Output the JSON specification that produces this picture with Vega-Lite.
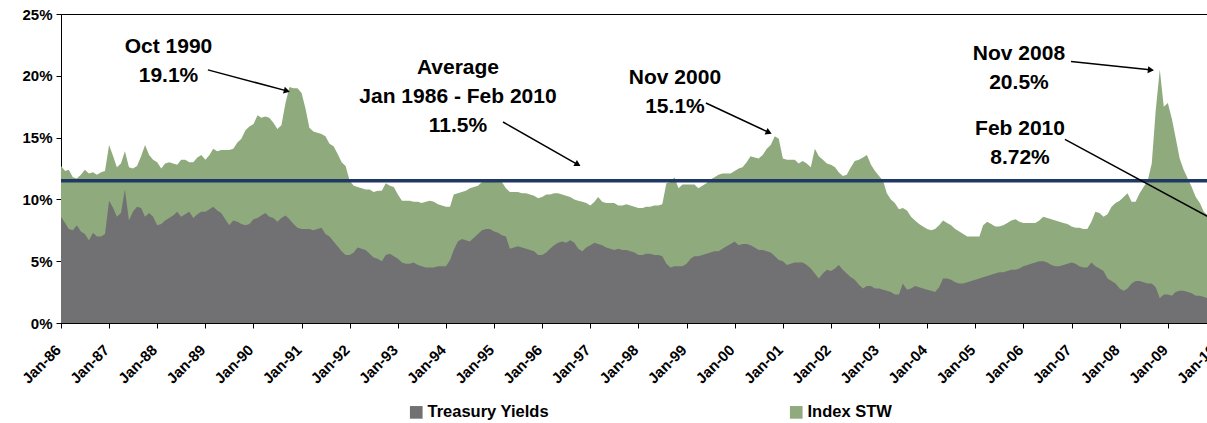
{
"$schema": "https://vega.github.io/schema/vega-lite/v6.json",
"width": 1146,
"height": 309,
"autosize": {"type": "none"},
"padding": {"left": 61, "top": 14, "right": 0, "bottom": 100},
"background": "white",
"config": {"view": {"stroke": "#000", "strokeWidth": 1}, "font": "Liberation Sans"},
"datasets": {
"series": [
{"date":"1986-01-01","stw":12.7,"tsy":8.6},{"date":"1986-02-01","stw":12.3,"tsy":8.1},{"date":"1986-03-01","stw":12.4,"tsy":7.6},{"date":"1986-04-01","stw":11.8,"tsy":7.5},{"date":"1986-05-01","stw":11.7,"tsy":7.9},{"date":"1986-06-01","stw":12.0,"tsy":7.4},{"date":"1986-07-01","stw":12.4,"tsy":7.2},{"date":"1986-08-01","stw":12.1,"tsy":6.7},{"date":"1986-09-01","stw":12.2,"tsy":7.3},{"date":"1986-10-01","stw":12.0,"tsy":7.0},{"date":"1986-11-01","stw":12.2,"tsy":7.0},{"date":"1986-12-01","stw":12.3,"tsy":7.2},
{"date":"1987-01-01","stw":14.4,"tsy":9.9},{"date":"1987-02-01","stw":13.5,"tsy":9.3},{"date":"1987-03-01","stw":12.6,"tsy":8.6},{"date":"1987-04-01","stw":12.9,"tsy":8.9},{"date":"1987-05-01","stw":13.9,"tsy":10.8},{"date":"1987-06-01","stw":12.6,"tsy":8.3},{"date":"1987-07-01","stw":12.5,"tsy":9.0},{"date":"1987-08-01","stw":12.7,"tsy":9.4},{"date":"1987-09-01","stw":13.5,"tsy":9.3},{"date":"1987-10-01","stw":14.4,"tsy":8.6},{"date":"1987-11-01","stw":13.6,"tsy":8.9},{"date":"1987-12-01","stw":13.2,"tsy":8.6},
{"date":"1988-01-01","stw":13.0,"tsy":7.9},{"date":"1988-02-01","stw":12.5,"tsy":8.0},{"date":"1988-03-01","stw":12.9,"tsy":8.3},{"date":"1988-04-01","stw":13.0,"tsy":8.5},{"date":"1988-05-01","stw":12.9,"tsy":8.7},{"date":"1988-06-01","stw":12.8,"tsy":9.0},{"date":"1988-07-01","stw":13.2,"tsy":8.6},{"date":"1988-08-01","stw":13.2,"tsy":8.8},{"date":"1988-09-01","stw":13.0,"tsy":9.0},{"date":"1988-10-01","stw":13.0,"tsy":8.5},{"date":"1988-11-01","stw":13.4,"tsy":8.8},{"date":"1988-12-01","stw":13.6,"tsy":9.0},
{"date":"1989-01-01","stw":13.2,"tsy":9.0},{"date":"1989-02-01","stw":13.6,"tsy":9.2},{"date":"1989-03-01","stw":14.1,"tsy":9.4},{"date":"1989-04-01","stw":13.9,"tsy":9.1},{"date":"1989-05-01","stw":14.0,"tsy":8.9},{"date":"1989-06-01","stw":14.0,"tsy":8.4},{"date":"1989-07-01","stw":14.0,"tsy":7.9},{"date":"1989-08-01","stw":14.1,"tsy":8.3},{"date":"1989-09-01","stw":14.6,"tsy":8.2},{"date":"1989-10-01","stw":14.9,"tsy":8.0},{"date":"1989-11-01","stw":15.6,"tsy":7.9},{"date":"1989-12-01","stw":15.9,"tsy":8.0},
{"date":"1990-01-01","stw":16.1,"tsy":8.4},{"date":"1990-02-01","stw":16.8,"tsy":8.5},{"date":"1990-03-01","stw":16.6,"tsy":8.7},{"date":"1990-04-01","stw":16.7,"tsy":8.9},{"date":"1990-05-01","stw":16.6,"tsy":8.6},{"date":"1990-06-01","stw":16.2,"tsy":8.5},{"date":"1990-07-01","stw":15.7,"tsy":8.2},{"date":"1990-08-01","stw":16.0,"tsy":8.5},{"date":"1990-09-01","stw":17.8,"tsy":8.7},{"date":"1990-10-01","stw":19.1,"tsy":8.4},{"date":"1990-11-01","stw":19.0,"tsy":8.0},{"date":"1990-12-01","stw":19.0,"tsy":7.7},
{"date":"1991-01-01","stw":18.6,"tsy":7.6},{"date":"1991-02-01","stw":17.3,"tsy":7.6},{"date":"1991-03-01","stw":15.8,"tsy":7.6},{"date":"1991-04-01","stw":15.5,"tsy":7.5},{"date":"1991-05-01","stw":15.4,"tsy":7.6},{"date":"1991-06-01","stw":15.3,"tsy":7.7},{"date":"1991-07-01","stw":15.1,"tsy":7.2},{"date":"1991-08-01","stw":14.5,"tsy":7.0},{"date":"1991-09-01","stw":14.3,"tsy":6.6},{"date":"1991-10-01","stw":13.7,"tsy":6.2},{"date":"1991-11-01","stw":13.0,"tsy":5.8},{"date":"1991-12-01","stw":12.7,"tsy":5.5},
{"date":"1992-01-01","stw":11.5,"tsy":5.5},{"date":"1992-02-01","stw":11.1,"tsy":5.7},{"date":"1992-03-01","stw":11.0,"tsy":6.1},{"date":"1992-04-01","stw":10.9,"tsy":6.0},{"date":"1992-05-01","stw":10.8,"tsy":5.9},{"date":"1992-06-01","stw":10.8,"tsy":5.6},{"date":"1992-07-01","stw":10.6,"tsy":5.3},{"date":"1992-08-01","stw":10.7,"tsy":5.2},{"date":"1992-09-01","stw":10.7,"tsy":5.0},{"date":"1992-10-01","stw":11.3,"tsy":5.5},{"date":"1992-11-01","stw":11.1,"tsy":5.6},{"date":"1992-12-01","stw":11.0,"tsy":5.4},
{"date":"1993-01-01","stw":10.4,"tsy":5.2},{"date":"1993-02-01","stw":9.9,"tsy":4.9},{"date":"1993-03-01","stw":9.9,"tsy":4.8},{"date":"1993-04-01","stw":9.9,"tsy":4.8},{"date":"1993-05-01","stw":9.8,"tsy":4.9},{"date":"1993-06-01","stw":9.8,"tsy":4.7},{"date":"1993-07-01","stw":9.7,"tsy":4.6},{"date":"1993-08-01","stw":9.8,"tsy":4.5},{"date":"1993-09-01","stw":9.9,"tsy":4.5},{"date":"1993-10-01","stw":9.8,"tsy":4.5},{"date":"1993-11-01","stw":9.6,"tsy":4.6},{"date":"1993-12-01","stw":9.5,"tsy":4.6},
{"date":"1994-01-01","stw":9.4,"tsy":4.6},{"date":"1994-02-01","stw":9.4,"tsy":5.1},{"date":"1994-03-01","stw":10.4,"tsy":5.9},{"date":"1994-04-01","stw":10.5,"tsy":6.6},{"date":"1994-05-01","stw":10.6,"tsy":6.8},{"date":"1994-06-01","stw":10.7,"tsy":6.7},{"date":"1994-07-01","stw":10.9,"tsy":6.6},{"date":"1994-08-01","stw":11.0,"tsy":6.9},{"date":"1994-09-01","stw":11.1,"tsy":7.2},{"date":"1994-10-01","stw":11.4,"tsy":7.5},{"date":"1994-11-01","stw":11.6,"tsy":7.6},{"date":"1994-12-01","stw":11.6,"tsy":7.6},
{"date":"1995-01-01","stw":11.6,"tsy":7.4},{"date":"1995-02-01","stw":11.5,"tsy":7.3},{"date":"1995-03-01","stw":11.4,"tsy":7.1},{"date":"1995-04-01","stw":10.9,"tsy":7.0},{"date":"1995-05-01","stw":10.6,"tsy":6.0},{"date":"1995-06-01","stw":10.6,"tsy":6.1},{"date":"1995-07-01","stw":10.6,"tsy":6.2},{"date":"1995-08-01","stw":10.5,"tsy":6.1},{"date":"1995-09-01","stw":10.5,"tsy":6.0},{"date":"1995-10-01","stw":10.4,"tsy":5.9},{"date":"1995-11-01","stw":10.3,"tsy":5.8},{"date":"1995-12-01","stw":10.1,"tsy":5.5},
{"date":"1996-01-01","stw":10.2,"tsy":5.5},{"date":"1996-02-01","stw":10.4,"tsy":5.7},{"date":"1996-03-01","stw":10.4,"tsy":6.0},{"date":"1996-04-01","stw":10.5,"tsy":6.3},{"date":"1996-05-01","stw":10.5,"tsy":6.5},{"date":"1996-06-01","stw":10.4,"tsy":6.6},{"date":"1996-07-01","stw":10.3,"tsy":6.5},{"date":"1996-08-01","stw":10.2,"tsy":6.7},{"date":"1996-09-01","stw":10.0,"tsy":6.5},{"date":"1996-10-01","stw":9.9,"tsy":6.0},{"date":"1996-11-01","stw":9.8,"tsy":5.8},{"date":"1996-12-01","stw":9.7,"tsy":6.1},
{"date":"1997-01-01","stw":9.5,"tsy":6.3},{"date":"1997-02-01","stw":9.8,"tsy":6.5},{"date":"1997-03-01","stw":10.2,"tsy":6.4},{"date":"1997-04-01","stw":9.8,"tsy":6.3},{"date":"1997-05-01","stw":9.7,"tsy":6.1},{"date":"1997-06-01","stw":9.7,"tsy":6.0},{"date":"1997-07-01","stw":9.7,"tsy":5.9},{"date":"1997-08-01","stw":9.5,"tsy":6.0},{"date":"1997-09-01","stw":9.5,"tsy":5.9},{"date":"1997-10-01","stw":9.6,"tsy":5.9},{"date":"1997-11-01","stw":9.5,"tsy":5.8},{"date":"1997-12-01","stw":9.4,"tsy":5.7},
{"date":"1998-01-01","stw":9.3,"tsy":5.5},{"date":"1998-02-01","stw":9.3,"tsy":5.5},{"date":"1998-03-01","stw":9.4,"tsy":5.6},{"date":"1998-04-01","stw":9.4,"tsy":5.6},{"date":"1998-05-01","stw":9.5,"tsy":5.5},{"date":"1998-06-01","stw":9.5,"tsy":5.5},{"date":"1998-07-01","stw":9.6,"tsy":5.4},{"date":"1998-08-01","stw":11.3,"tsy":4.8},{"date":"1998-09-01","stw":11.4,"tsy":4.5},{"date":"1998-10-01","stw":11.8,"tsy":4.6},{"date":"1998-11-01","stw":10.9,"tsy":4.6},{"date":"1998-12-01","stw":11.2,"tsy":4.6},
{"date":"1999-01-01","stw":11.2,"tsy":4.8},{"date":"1999-02-01","stw":11.2,"tsy":5.2},{"date":"1999-03-01","stw":11.2,"tsy":5.4},{"date":"1999-04-01","stw":10.9,"tsy":5.4},{"date":"1999-05-01","stw":11.1,"tsy":5.5},{"date":"1999-06-01","stw":11.3,"tsy":5.6},{"date":"1999-07-01","stw":11.6,"tsy":5.7},{"date":"1999-08-01","stw":11.8,"tsy":5.8},{"date":"1999-09-01","stw":12.0,"tsy":5.8},{"date":"1999-10-01","stw":12.1,"tsy":6.0},{"date":"1999-11-01","stw":12.1,"tsy":6.2},{"date":"1999-12-01","stw":12.1,"tsy":6.4},
{"date":"2000-01-01","stw":12.3,"tsy":6.6},{"date":"2000-02-01","stw":12.5,"tsy":6.3},{"date":"2000-03-01","stw":12.6,"tsy":6.4},{"date":"2000-04-01","stw":13.0,"tsy":6.4},{"date":"2000-05-01","stw":13.5,"tsy":6.3},{"date":"2000-06-01","stw":13.4,"tsy":6.1},{"date":"2000-07-01","stw":13.3,"tsy":5.9},{"date":"2000-08-01","stw":13.6,"tsy":5.9},{"date":"2000-09-01","stw":14.1,"tsy":5.8},{"date":"2000-10-01","stw":14.4,"tsy":5.7},{"date":"2000-11-01","stw":15.1,"tsy":5.4},{"date":"2000-12-01","stw":14.9,"tsy":5.1},
{"date":"2001-01-01","stw":13.3,"tsy":5.0},{"date":"2001-02-01","stw":13.2,"tsy":4.7},{"date":"2001-03-01","stw":13.2,"tsy":4.8},{"date":"2001-04-01","stw":13.2,"tsy":4.9},{"date":"2001-05-01","stw":12.9,"tsy":4.9},{"date":"2001-06-01","stw":13.1,"tsy":4.9},{"date":"2001-07-01","stw":12.9,"tsy":4.7},{"date":"2001-08-01","stw":12.6,"tsy":4.4},{"date":"2001-09-01","stw":14.1,"tsy":4.0},{"date":"2001-10-01","stw":13.5,"tsy":3.6},{"date":"2001-11-01","stw":13.2,"tsy":4.0},{"date":"2001-12-01","stw":12.9,"tsy":4.3},
{"date":"2002-01-01","stw":12.8,"tsy":4.2},{"date":"2002-02-01","stw":12.6,"tsy":4.4},{"date":"2002-03-01","stw":12.2,"tsy":4.7},{"date":"2002-04-01","stw":11.9,"tsy":4.3},{"date":"2002-05-01","stw":12.0,"tsy":4.0},{"date":"2002-06-01","stw":12.6,"tsy":3.7},{"date":"2002-07-01","stw":13.1,"tsy":3.5},{"date":"2002-08-01","stw":13.2,"tsy":3.1},{"date":"2002-09-01","stw":13.4,"tsy":2.8},{"date":"2002-10-01","stw":13.6,"tsy":3.0},{"date":"2002-11-01","stw":12.8,"tsy":3.0},{"date":"2002-12-01","stw":12.3,"tsy":2.8},
{"date":"2003-01-01","stw":11.9,"tsy":2.8},{"date":"2003-02-01","stw":11.5,"tsy":2.7},{"date":"2003-03-01","stw":10.5,"tsy":2.6},{"date":"2003-04-01","stw":10.0,"tsy":2.5},{"date":"2003-05-01","stw":9.7,"tsy":2.3},{"date":"2003-06-01","stw":9.2,"tsy":2.3},{"date":"2003-07-01","stw":9.3,"tsy":3.2},{"date":"2003-08-01","stw":9.1,"tsy":2.7},{"date":"2003-09-01","stw":8.6,"tsy":2.8},{"date":"2003-10-01","stw":8.3,"tsy":3.0},{"date":"2003-11-01","stw":8.0,"tsy":2.9},{"date":"2003-12-01","stw":7.8,"tsy":2.8},
{"date":"2004-01-01","stw":7.6,"tsy":2.7},{"date":"2004-02-01","stw":7.5,"tsy":2.6},{"date":"2004-03-01","stw":7.6,"tsy":2.5},{"date":"2004-04-01","stw":7.9,"tsy":2.9},{"date":"2004-05-01","stw":8.3,"tsy":3.6},{"date":"2004-06-01","stw":8.1,"tsy":3.6},{"date":"2004-07-01","stw":7.9,"tsy":3.5},{"date":"2004-08-01","stw":7.6,"tsy":3.3},{"date":"2004-09-01","stw":7.4,"tsy":3.2},{"date":"2004-10-01","stw":7.2,"tsy":3.2},{"date":"2004-11-01","stw":7.0,"tsy":3.3},{"date":"2004-12-01","stw":7.0,"tsy":3.4},
{"date":"2005-01-01","stw":7.0,"tsy":3.5},{"date":"2005-02-01","stw":7.0,"tsy":3.6},{"date":"2005-03-01","stw":7.9,"tsy":3.7},{"date":"2005-04-01","stw":8.2,"tsy":3.8},{"date":"2005-05-01","stw":8.0,"tsy":3.9},{"date":"2005-06-01","stw":7.8,"tsy":4.0},{"date":"2005-07-01","stw":7.8,"tsy":4.1},{"date":"2005-08-01","stw":7.9,"tsy":4.1},{"date":"2005-09-01","stw":8.1,"tsy":4.2},{"date":"2005-10-01","stw":8.3,"tsy":4.3},{"date":"2005-11-01","stw":8.4,"tsy":4.3},{"date":"2005-12-01","stw":8.2,"tsy":4.4},
{"date":"2006-01-01","stw":8.1,"tsy":4.6},{"date":"2006-02-01","stw":8.1,"tsy":4.7},{"date":"2006-03-01","stw":8.1,"tsy":4.8},{"date":"2006-04-01","stw":8.1,"tsy":4.9},{"date":"2006-05-01","stw":8.3,"tsy":5.0},{"date":"2006-06-01","stw":8.6,"tsy":5.0},{"date":"2006-07-01","stw":8.5,"tsy":4.9},{"date":"2006-08-01","stw":8.4,"tsy":4.7},{"date":"2006-09-01","stw":8.3,"tsy":4.6},{"date":"2006-10-01","stw":8.2,"tsy":4.6},{"date":"2006-11-01","stw":8.1,"tsy":4.7},{"date":"2006-12-01","stw":8.0,"tsy":4.8},
{"date":"2007-01-01","stw":7.8,"tsy":4.9},{"date":"2007-02-01","stw":7.7,"tsy":4.8},{"date":"2007-03-01","stw":7.7,"tsy":4.6},{"date":"2007-04-01","stw":7.6,"tsy":4.5},{"date":"2007-05-01","stw":7.6,"tsy":4.5},{"date":"2007-06-01","stw":8.2,"tsy":4.9},{"date":"2007-07-01","stw":9.0,"tsy":4.6},{"date":"2007-08-01","stw":8.9,"tsy":4.4},{"date":"2007-09-01","stw":8.6,"tsy":4.2},{"date":"2007-10-01","stw":8.8,"tsy":3.6},{"date":"2007-11-01","stw":9.4,"tsy":3.4},{"date":"2007-12-01","stw":9.7,"tsy":3.2},
{"date":"2008-01-01","stw":9.9,"tsy":2.8},{"date":"2008-02-01","stw":10.2,"tsy":2.6},{"date":"2008-03-01","stw":10.5,"tsy":2.8},{"date":"2008-04-01","stw":9.8,"tsy":3.2},{"date":"2008-05-01","stw":9.8,"tsy":3.4},{"date":"2008-06-01","stw":10.5,"tsy":3.4},{"date":"2008-07-01","stw":11.0,"tsy":3.3},{"date":"2008-08-01","stw":11.5,"tsy":3.2},{"date":"2008-09-01","stw":12.9,"tsy":3.2},{"date":"2008-10-01","stw":17.2,"tsy":2.9},{"date":"2008-11-01","stw":20.5,"tsy":2.0},{"date":"2008-12-01","stw":17.5,"tsy":2.3},
{"date":"2009-01-01","stw":17.8,"tsy":2.3},{"date":"2009-02-01","stw":16.5,"tsy":2.2},{"date":"2009-03-01","stw":15.0,"tsy":2.5},{"date":"2009-04-01","stw":13.3,"tsy":2.6},{"date":"2009-05-01","stw":12.4,"tsy":2.6},{"date":"2009-06-01","stw":11.7,"tsy":2.5},{"date":"2009-07-01","stw":11.0,"tsy":2.4},{"date":"2009-08-01","stw":10.2,"tsy":2.2},{"date":"2009-09-01","stw":9.7,"tsy":2.2},{"date":"2009-10-01","stw":9.0,"tsy":2.1},{"date":"2009-11-01","stw":8.7,"tsy":2.0},{"date":"2009-12-01","stw":8.8,"tsy":2.0},
{"date":"2010-01-01","stw":8.75,"tsy":1.9},{"date":"2010-02-01","stw":8.72,"tsy":1.9}
],
"notes": [
{"label":"Oct 1990","x":"1988-03-27","y":22.3},
{"label":"19.1%","x":"1988-03-27","y":19.95},
{"label":"Average","x":"1994-04-02","y":20.6},
{"label":"Jan 1986 - Feb 2010","x":"1994-04-02","y":18.25},
{"label":"11.5%","x":"1994-04-02","y":15.95},
{"label":"Nov 2000","x":"1998-10-05","y":19.8},
{"label":"15.1%","x":"1998-10-05","y":17.45},
{"label":"Nov 2008","x":"2005-11-28","y":21.75},
{"label":"20.5%","x":"2005-11-28","y":19.4},
{"label":"Feb 2010","x":"2005-12-06","y":15.7},
{"label":"8.72%","x":"2005-12-06","y":13.35}
],
"arrows": [
{"id":"a1","x1":"1989-01-20","y1":20.48,"x2":"1990-09-04","y2":18.8},
{"id":"a2","x1":"1995-03-10","y1":16.26,"x2":"1996-09-21","y2":12.86},
{"id":"a3","x1":"1999-05-28","y1":17.8,"x2":"2000-09-10","y2":15.45},
{"id":"a4","x1":"2006-12-28","y1":21.15,"x2":"2008-08-18","y2":20.48},
{"id":"a5","x1":"2006-11-12","y1":14.86,"x2":"2010-02-01","y2":8.08}
]
},
"layer": [
{
"data": {"name": "series"},
"mark": {"type": "area"},
"encoding": {
"x": {"field": "date", "type": "temporal", "title": null,
"scale": {"type": "utc", "domain": [{"year": 1986, "month": 1, "date": 1, "utc": true}, {"year": 2010, "month": 2, "date": 1, "utc": true}], "range": [0, 1159], "nice": false},
"axis": {"tickCount": {"interval": "year", "step": 1}, "labelExpr": "utcFormat(datum.value, '%b-%y')", "labelAngle": -45, "labelFont": "Liberation Sans", "labelFontSize": 15, "labelFontWeight": "bold", "labelColor": "#000", "tickColor": "#000", "domainColor": "#000", "tickSize": 5, "grid": false, "labelOverlap": false, "labelPadding": 14, "labelOffset": -8, "labelFlush": false, "labelBound": false}},
"y": {"field": "stw", "type": "quantitative", "title": null,
"scale": {"domain": [0, 25], "nice": false, "zero": true},
"axis": {"values": [0, 5, 10, 15, 20, 25], "labelExpr": "datum.value + '%'", "labelFont": "Liberation Sans", "labelFontSize": 15, "labelFontWeight": "bold", "labelColor": "#000", "tickColor": "#000", "domainColor": "#000", "tickSize": 5, "grid": false, "labelPadding": 4}},
"color": {"datum": "Index STW", "type": "nominal",
"scale": {"domain": ["Treasury Yields", "Index STW"], "range": ["#717073", "#8FAA7D"]},
"legend": {"title": null, "orient": "none", "legendX": 347, "legendY": 390, "direction": "horizontal", "columns": 2, "columnPadding": 239, "symbolType": "square", "symbolSize": 160, "symbolStrokeWidth": 0, "symbolOpacity": 1, "labelFont": "Liberation Sans", "labelFontSize": 16.5, "labelFontWeight": "bold", "labelColor": "#000", "labelOffset": 3}}
}
},
{
"data": {"name": "series"},
"mark": {"type": "area"},
"encoding": {
"x": {"field": "date", "type": "temporal", "title": null},
"y": {"field": "tsy", "type": "quantitative", "title": null},
"color": {"datum": "Treasury Yields", "type": "nominal"}
}
},
{
"data": {"values": [{}]},
"mark": {"type": "rule", "color": "#1F3864", "strokeWidth": 3.5},
"encoding": {"y": {"datum": 11.5, "type": "quantitative"}}
},
{
"data": {"name": "arrows"},
"mark": {"type": "rule", "color": "#000", "strokeWidth": 1.5},
"encoding": {
"x": {"field": "x1", "type": "temporal", "title": null},
"y": {"field": "y1", "type": "quantitative", "title": null},
"x2": {"field": "x2"},
"y2": {"field": "y2"}
}
},
{
"data": {"name": "arrows"},
"transform": [{"filter": "datum.id == 'a1'"}],
"mark": {"type": "point", "shape": "triangle", "filled": true, "color": "#000", "opacity": 1, "size": 50, "angle": 105},
"encoding": {"x": {"field": "x2", "type": "temporal", "title": null}, "y": {"field": "y2", "type": "quantitative", "title": null}}
},
{
"data": {"name": "arrows"},
"transform": [{"filter": "datum.id == 'a2'"}],
"mark": {"type": "point", "shape": "triangle", "filled": true, "color": "#000", "opacity": 1, "size": 50, "angle": 120},
"encoding": {"x": {"field": "x2", "type": "temporal", "title": null}, "y": {"field": "y2", "type": "quantitative", "title": null}}
},
{
"data": {"name": "arrows"},
"transform": [{"filter": "datum.id == 'a3'"}],
"mark": {"type": "point", "shape": "triangle", "filled": true, "color": "#000", "opacity": 1, "size": 50, "angle": 115},
"encoding": {"x": {"field": "x2", "type": "temporal", "title": null}, "y": {"field": "y2", "type": "quantitative", "title": null}}
},
{
"data": {"name": "arrows"},
"transform": [{"filter": "datum.id == 'a4'"}],
"mark": {"type": "point", "shape": "triangle", "filled": true, "color": "#000", "opacity": 1, "size": 50, "angle": 96},
"encoding": {"x": {"field": "x2", "type": "temporal", "title": null}, "y": {"field": "y2", "type": "quantitative", "title": null}}
},
{
"data": {"name": "notes"},
"mark": {"type": "text", "font": "Liberation Sans", "fontSize": 21, "fontWeight": "bold", "color": "#000", "align": "center", "baseline": "middle"},
"encoding": {
"x": {"field": "x", "type": "temporal", "title": null},
"y": {"field": "y", "type": "quantitative", "title": null},
"text": {"field": "label"}
}
}
]
}
